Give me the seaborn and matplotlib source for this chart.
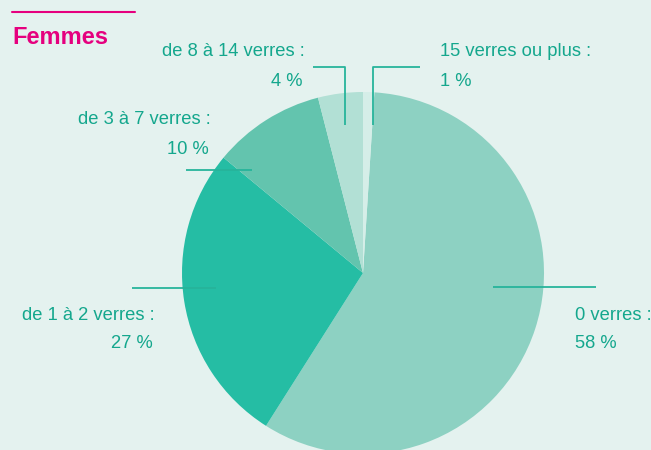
import matplotlib
matplotlib.use("Agg")
import matplotlib.pyplot as plt
import seaborn as sns
from matplotlib import font_manager

categories = ["0 verres", "de 1 à 2 verres", "de 3 à 7 verres", "de 8 à 14 verres", "15 verres ou plus"]
values = [58, 27, 10, 4, 1]
pct_labels = ["58 %", "27 %", "10 %", "4 %", "1 %"]
colors = ["#8dd1c2", "#25bda4", "#63c4ae", "#b2e0d5", "#d5eee8"]

BG = "#e4f2ef"
TEAL = "#14a78d"
LINE = "#27b49b"
MAGENTA = "#e5007e"

sns.set_theme(style="white")
names = {f.name for f in font_manager.fontManager.ttflist}
fam = "Liberation Sans Narrow" if "Liberation Sans Narrow" in names else "Liberation Sans"
plt.rcParams["font.family"] = [fam, "DejaVu Sans"]

W, H = 651, 450
fig = plt.figure(figsize=(W / 100, H / 100), dpi=100, facecolor=BG)
ax = fig.add_axes([0, 0, 1, 1])
ax.set_facecolor(BG)

CX, CY, R = 363, 273, 181

def px(x, y):
    return ((x - CX) / R, (CY - y) / R)

start = 90 - 360 * values[-1] / sum(values)
ax.pie(values, colors=colors, startangle=start, counterclock=False,
       radius=1, center=(0, 0), wedgeprops=dict(linewidth=0))

x0, y0 = px(0, H)
x1, y1 = px(W, 0)
ax.set_xlim(x0, x1)
ax.set_ylim(y0, y1)
ax.set_aspect("auto")
ax.axis("off")

def line(pts):
    xs, ys = zip(*[px(a, b) for a, b in pts])
    ax.plot(xs, ys, color=LINE, lw=1.3, solid_capstyle="butt", zorder=5)

def text(x, y, s, ha):
    X, Y = px(x, y)
    ax.text(X, Y, s, ha=ha, va="center", fontsize=13.2, color=TEAL)

# leader lines
line([(420, 67), (373, 67), (373, 125)])
line([(313, 67), (345, 67), (345, 125)])
line([(186, 170), (252, 170)])
line([(132, 288), (216, 288)])
line([(493, 287), (596, 287)])

# labels
text(440, 52, categories[4] + " :", "left")
text(440, 81, pct_labels[4], "left")
text(305, 52, categories[3] + " :", "right")
text(303, 81, pct_labels[3], "right")
text(211, 120, categories[2] + " :", "right")
text(209, 150, pct_labels[2], "right")
text(155, 315, categories[1] + " :", "right")
text(153, 343, pct_labels[1], "right")
text(575, 315, categories[0] + " :", "left")
text(575, 343, pct_labels[0], "left")

# title
tx, ty = px(12, 38)
ax.text(tx, ty, "Femmes", ha="left", va="center", fontsize=17, fontweight="bold", color=MAGENTA)
line_x, line_y = zip(px(12, 12), px(135, 12))
ax.plot(line_x, line_y, color=MAGENTA, lw=1.5)

fig.savefig("out.png", dpi=100, facecolor=BG)
